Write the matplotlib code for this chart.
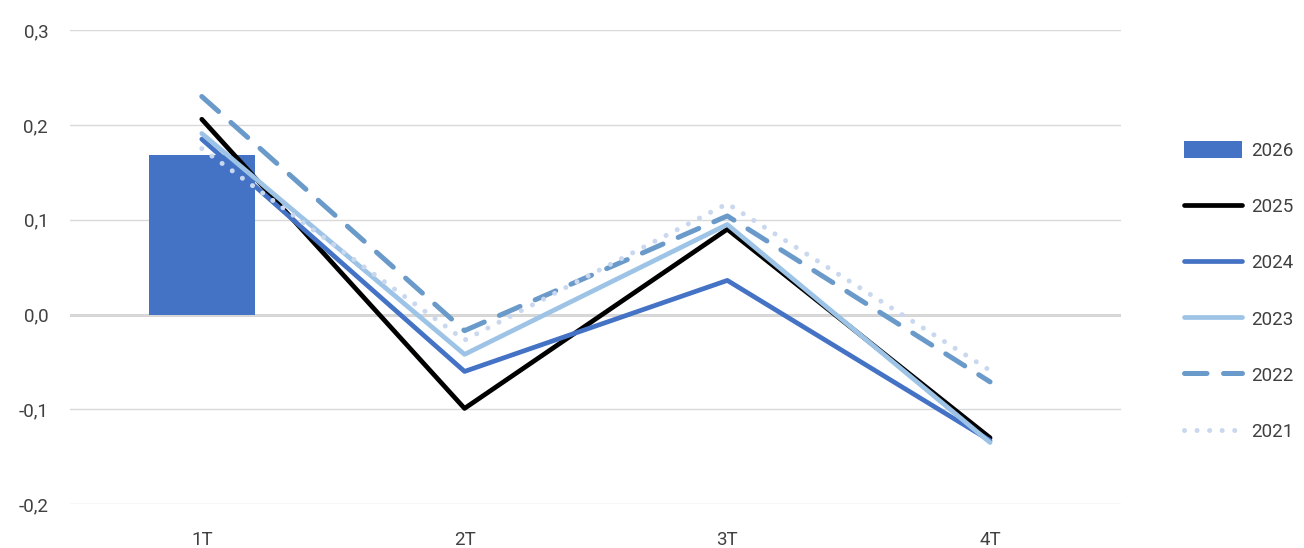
import matplotlib.pyplot as plt
from matplotlib.ticker import FuncFormatter

plt.rcParams['font.family'] = ['Roboto', 'DejaVu Sans']

quarters = ['1T', '2T', '3T', '4T']
bar_2026 = [0.168]
y2025 = [0.206, -0.099, 0.090, -0.130]
y2024 = [0.185, -0.060, 0.036, -0.133]
y2023 = [0.191, -0.042, 0.095, -0.135]
y2022 = [0.230, -0.017, 0.104, -0.071]
y2021 = [0.175, -0.027, 0.117, -0.059]

x = list(range(len(quarters)))
fig, ax = plt.subplots(figsize=(13.04, 5.48), dpi=100)
fig.subplots_adjust(left=0.054, right=0.86, top=0.945, bottom=0.08)

ax.bar(x[:len(bar_2026)], bar_2026, width=0.405, color='#4472C4', label='2026', zorder=2)
ax.plot(x, y2025, color='black', lw=3.4, solid_capstyle='round', label='2025', zorder=3)
ax.plot(x, y2024, color='#4472C4', lw=3.4, solid_capstyle='round', label='2024', zorder=3)
ax.plot(x, y2023, color='#9DC3E6', lw=3.4, solid_capstyle='round', label='2023', zorder=3)
ax.plot(x, y2022, color='#6A9AC9', lw=3.6, dashes=(4.5, 3.3), dash_capstyle='round', label='2022', zorder=3)
ax.plot(x, y2021, color='#C9D8EE', lw=3.6, dashes=(0.01, 2.5), dash_capstyle='round', label='2021', zorder=3)

ax.set_xlim(-0.5, 3.5)
ax.set_ylim(-0.2, 0.3)
ax.set_yticks([-0.2, -0.1, 0.0, 0.1, 0.2, 0.3])
ax.yaxis.set_major_formatter(FuncFormatter(lambda v, p: f'{v:.1f}'.replace('.', ',')))
ax.set_xticks(x)
ax.set_xticklabels(quarters)
ax.grid(axis='y', color='#d9d9d9', lw=1, zorder=0)
ax.axhline(0, color='#d0d0d0', lw=2, zorder=1)
for s in ax.spines.values():
    s.set_visible(False)
ax.tick_params(length=0, labelsize=13.5, colors='#404040')
ax.tick_params(axis='x', pad=19)
ax.tick_params(axis='y', pad=16)

handles, labels = ax.get_legend_handles_labels()
order = ['2026', '2025', '2024', '2023', '2022', '2021']
hl = dict(zip(labels, handles))
ax.legend([hl[k] for k in order], order, loc='center left', bbox_to_anchor=(0.895, 0.469),
          bbox_transform=fig.transFigure, frameon=False, fontsize=13.5,
          handlelength=3.1, handleheight=1.0, labelspacing=2.0, labelcolor='#404040',
          handletextpad=0.5)

fig.savefig('out.png', dpi=100)
